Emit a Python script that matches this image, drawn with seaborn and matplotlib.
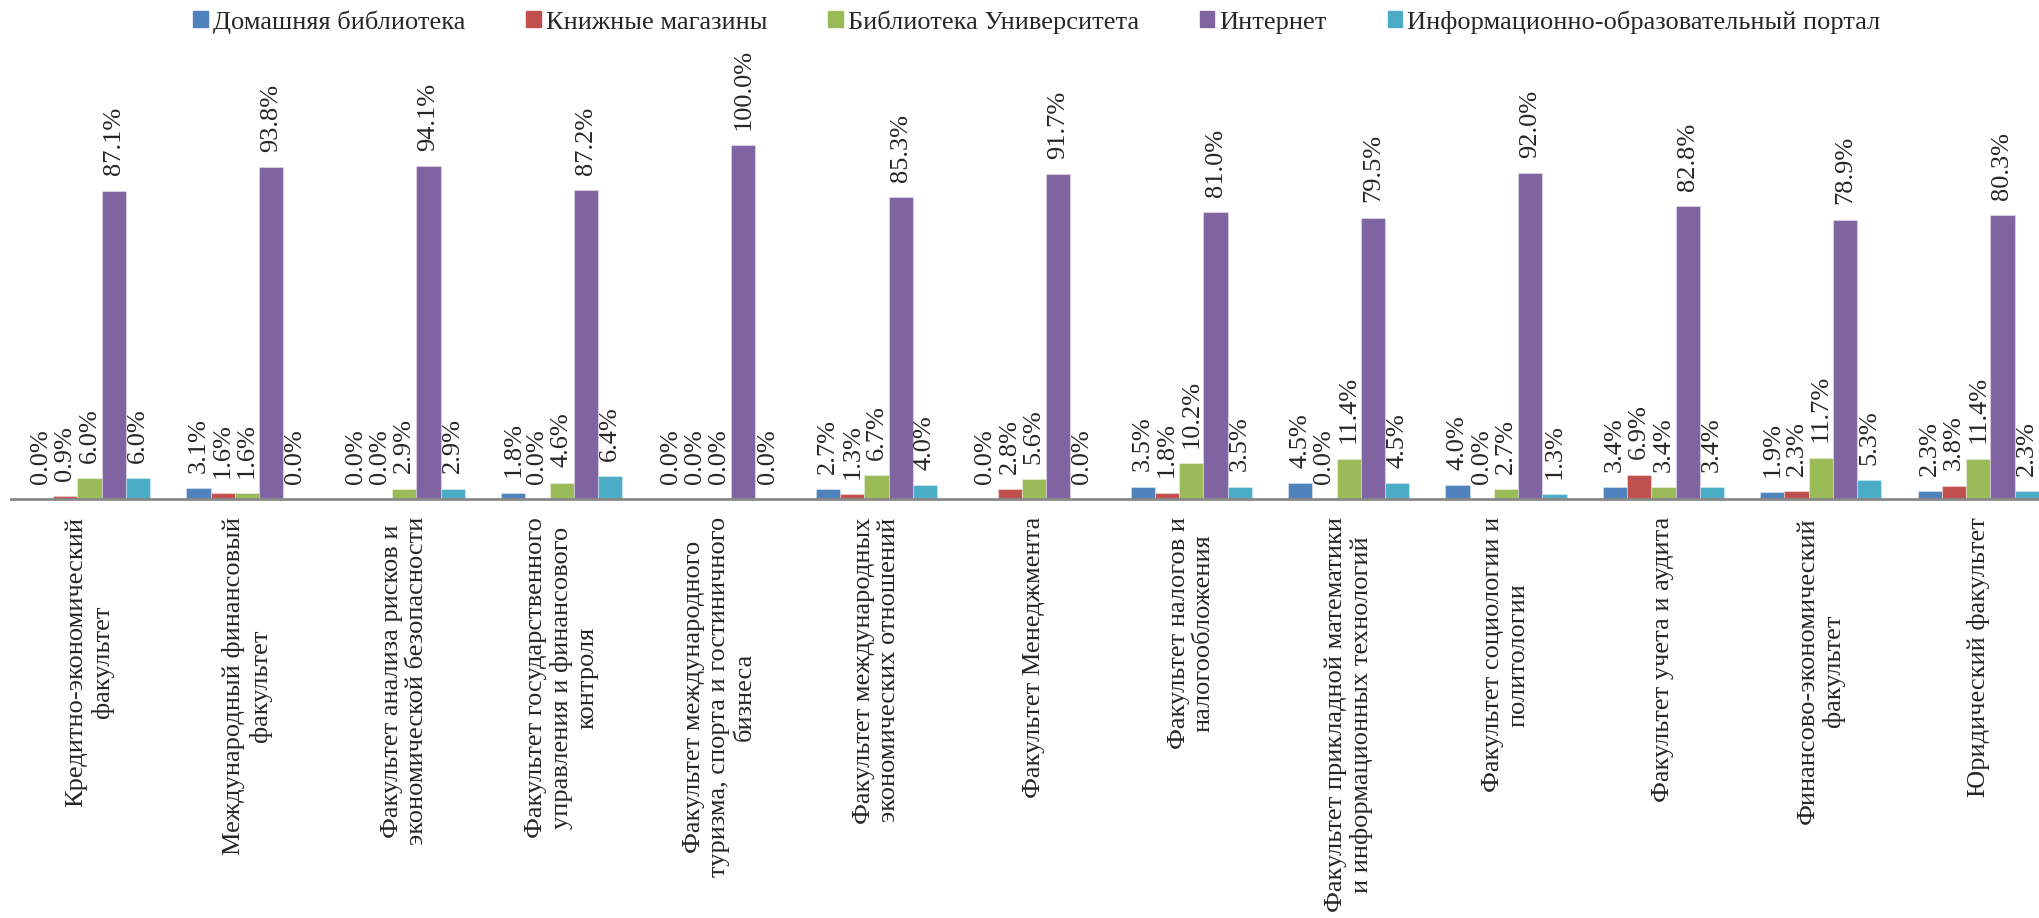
import pandas as pd
import numpy as np
import seaborn as sns
import matplotlib.pyplot as plt

# Факультеты (подписи оси X)
faculties = [
    "Кредитно-экономический\nфакультет",
    "Международный финансовый\nфакультет",
    "Факультет анализа рисков и\nэкономической безопасности",
    "Факультет государственного\nуправления и финансового\nконтроля",
    "Факультет международного\nтуризма, спорта и гостиничного\nбизнеса",
    "Факультет международных\nэкономических отношений",
    "Факультет Менеджмента",
    "Факультет налогов и\nналогообложения",
    "Факультет прикладной математики\nи информационных технологий",
    "Факультет социологии и\nполитологии",
    "Факультет учета и аудита",
    "Финансово-экономический\nфакультет",
    "Юридический факультет",
]

sources = [
    "Домашняя библиотека",
    "Книжные магазины",
    "Библиотека Университета",
    "Интернет",
    "Информационно-образовательный портал",
]

home_library = [0.0, 3.1, 0.0, 1.8, 0.0, 2.7, 0.0, 3.5, 4.5, 4.0, 3.4, 1.9, 2.3]
book_stores = [0.9, 1.6, 0.0, 0.0, 0.0, 1.3, 2.8, 1.8, 0.0, 0.0, 6.9, 2.3, 3.8]
univ_library = [6.0, 1.6, 2.9, 4.6, 0.0, 6.7, 5.6, 10.2, 11.4, 2.7, 3.4, 11.7, 11.4]
internet = [87.1, 93.8, 94.1, 87.2, 100.0, 85.3, 91.7, 81.0, 79.5, 92.0, 82.8, 78.9, 80.3]
portal = [6.0, 0.0, 2.9, 6.4, 0.0, 4.0, 0.0, 3.5, 4.5, 1.3, 3.4, 5.3, 2.3]

colors = ["#4F81BD", "#C0504D", "#9BBB59", "#8064A2", "#4BACC6"]

series = [home_library, book_stores, univ_library, internet, portal]
df = pd.DataFrame({
    "faculty": np.tile(faculties, len(sources)),
    "source": np.repeat(sources, len(faculties)),
    "value": np.concatenate(series),
})

sns.set_style("white")
plt.rcParams["font.family"] = ["Liberation Serif", "DejaVu Serif"]

fig = plt.figure(figsize=(20.4, 9.18), dpi=100)
ax = fig.add_axes([0.0053, 0.4564, 1.003, 0.4627])

sns.barplot(
    data=df, x="faculty", y="value", hue="source",
    order=faculties, hue_order=sources, palette=colors,
    width=0.77, saturation=1, errorbar=None, ax=ax,
    edgecolor=(1, 1, 1, 0.35), linewidth=0.8,
)

# Подписи значений над столбцами
for cont in ax.containers:
    ax.bar_label(
        cont, labels=[f"{b.get_height():.1f}%" for b in cont],
        padding=11, rotation=90, fontsize=19,
    )

ax.set_xlim(-0.5, len(faculties) - 0.5)
ax.set_ylim(0, 120)
ax.set_xlabel("")
ax.set_ylabel("")
ax.set_yticks([])
ax.tick_params(axis="x", length=0, pad=13, labelsize=19)
plt.setp(ax.get_xticklabels(), rotation=90, ha="center", va="top",
         multialignment="center")
for s in ["top", "left", "right"]:
    ax.spines[s].set_visible(False)
ax.spines["bottom"].set_color("#898989")
ax.spines["bottom"].set_linewidth(2)

ax.get_legend().remove()
handles = [plt.Rectangle((0, 0), 1, 1, color=c) for c in colors]
fig.legend(
    handles, sources, loc="center", bbox_to_anchor=(1037 / 2040, 1 - 22 / 918),
    ncol=5, frameon=False, fontsize=19, handlelength=0.55, handleheight=0.55,
    handletextpad=0.2, columnspacing=2.3,
)

fig.savefig("out.png", dpi=100)
